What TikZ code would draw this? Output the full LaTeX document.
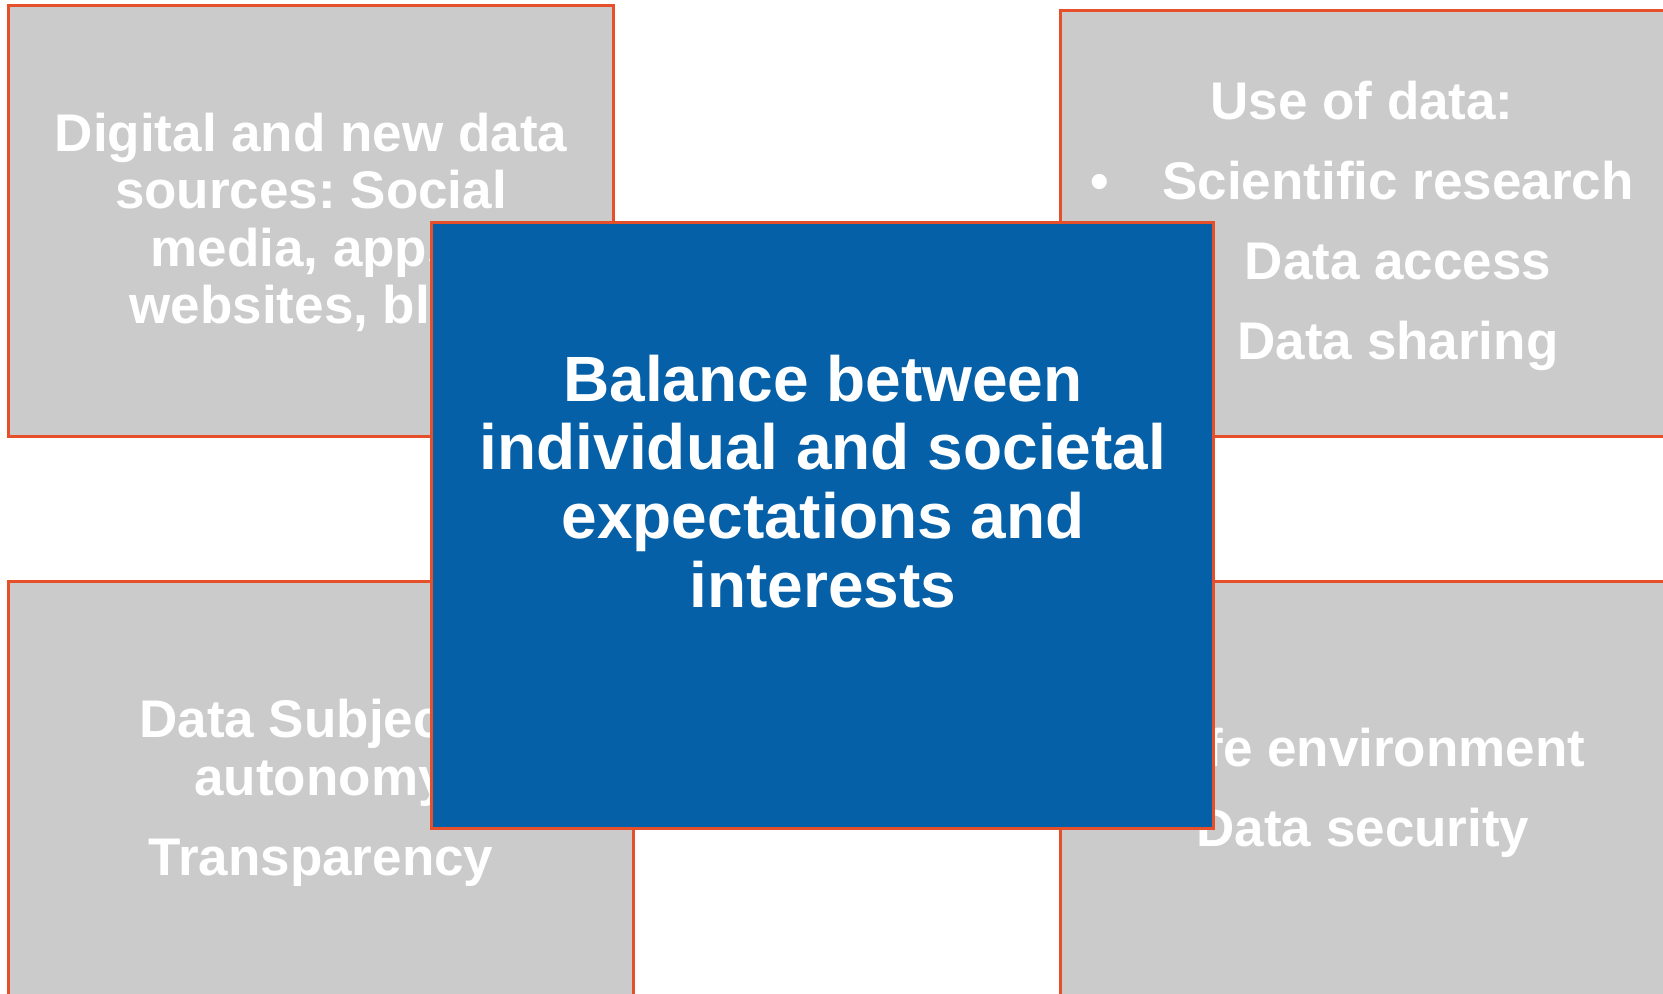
\documentclass[tikz,border=0pt]{standalone}
\usepackage{fontspec}
\setmainfont{Liberation Sans}
\usetikzlibrary{fit}
\definecolor{boxgray}{HTML}{CBCBCB}
\definecolor{edgeorange}{HTML}{E5502B}
\definecolor{midblue}{HTML}{0560A8}
\frenchspacing
\begin{document}
\begin{tikzpicture}[x=0.5pt,y=-0.5pt,
  panel/.style={draw=edgeorange, line width=1.5pt, fill=boxgray, inner sep=0pt},
  core/.style={draw=edgeorange, line width=1.5pt, fill=midblue, inner sep=0pt},
  side/.style={text=white, font=\bfseries\fontsize{26.5}{30}\selectfont, anchor=base, inner sep=0pt},
  big/.style={text=white, font=\bfseries\fontsize{32}{36}\selectfont, anchor=base, inner sep=0pt}]
\useasboundingbox (0,0) rectangle (1663,994);
% corner panels
\node[panel, fit={(8.5,5.5) (613,436)}] (tl) {};
\node[panel, fit={(1060,11) (1668,436)}] (tr) {};
\node[panel, fit={(8.5,581) (633,1000)}] (bl) {};
\node[panel, fit={(1060,581) (1668,1000)}] (br) {};
% top left text
\node[side] (tl1) at (311,152) {Digital and new data};
\node[side] (tl2) at (311,209) {sources: Social};
\node[side] (tl3) at (311,267) {media, apps,};
\node[side] (tl4) at (327,324) {websites, blogs};
% top right text
\node[side] (tr1) at (1362,120) {Use of data:};
\node[side] (tr2b) at (1100,200) {•};
\node[side] (tr2) at (1398,200) {Scientific research};
\node[side] (tr3b) at (1100,280) {•};
\node[side] (tr3) at (1398,280) {Data access};
\node[side] (tr4b) at (1100,359) {•};
\node[side] (tr4) at (1398,359) {Data sharing};
% bottom left text
\node[side] (bl1) at (321,737) {Data Subject’s};
\node[side] (bl2) at (321,795) {autonomy};
\node[side] (bl3) at (321,875) {Transparency};
% bottom right text
\node[side] (br1) at (1363,766) {Safe environment};
\node[side] (br2) at (1363,846) {Data security};
% centre panel
\node[core, fit={(431,223) (1213,828)}] (mid) {};
\node[big] (m1) at (823,401) {Balance between};
\node[big] (m2) at (823,469) {individual and societal};
\node[big] (m3) at (823,538) {expectations and};
\node[big] (m4) at (823,607) {interests};
\end{tikzpicture}
\end{document}
